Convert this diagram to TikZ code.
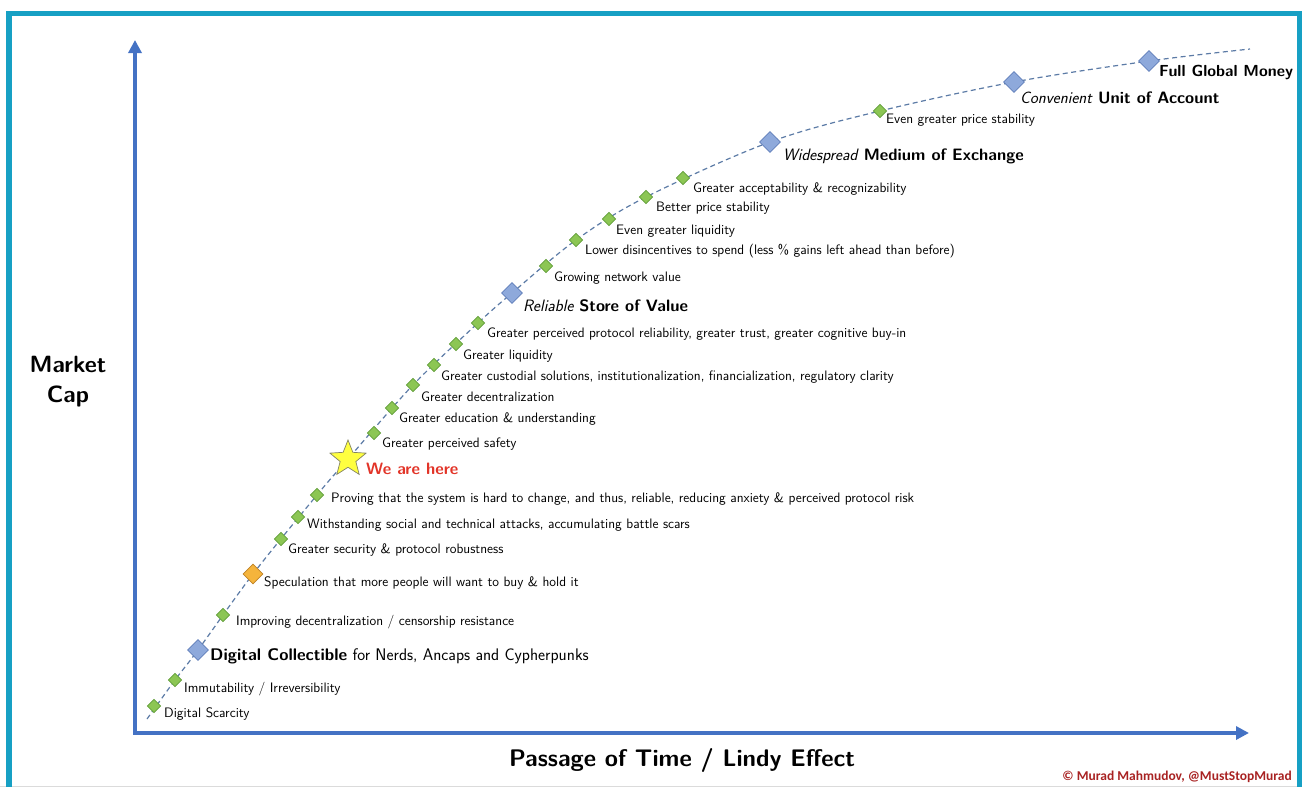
\documentclass[tikz,border=0pt]{standalone}
\usepackage{fontspec}
\newfontfamily\carlito{Carlito}
\usetikzlibrary{shapes.geometric,arrows.meta}
\definecolor{frameteal}{RGB}{23,160,196}
\definecolor{axisblue}{RGB}{68,114,196}
\definecolor{curveblue}{RGB}{92,123,166}
\definecolor{gfill}{RGB}{140,198,84}
\definecolor{gdraw}{RGB}{98,158,58}
\definecolor{bfill}{RGB}{142,169,219}
\definecolor{bdraw}{RGB}{96,126,186}
\definecolor{ofill}{RGB}{245,180,60}
\definecolor{odraw}{RGB}{190,130,40}
\definecolor{starfill}{RGB}{255,255,64}
\definecolor{stardraw}{RGB}{130,130,100}
\definecolor{herered}{RGB}{226,52,40}
\definecolor{copyred}{RGB}{168,34,34}
\begin{document}
\begin{tikzpicture}[x=1pt,y=-1pt,
  smalld/.style={diamond, aspect=1, inner sep=0pt, minimum width=13.5pt, minimum height=13.5pt, fill=gfill, draw=gdraw, line width=0.6pt},
  bigd/.style={diamond, aspect=1, inner sep=0pt, minimum width=21pt, minimum height=21pt, fill=bfill, draw=bdraw, line width=0.7pt},
  orad/.style={diamond, aspect=1, inner sep=0pt, minimum width=20pt, minimum height=20pt, fill=ofill, draw=odraw, line width=0.7pt},
  lab/.style={anchor=base west, inner sep=0pt, font=\sffamily\fontsize{13.7}{16}\selectfont},
  biglab/.style={anchor=base west, inner sep=0pt, font=\sffamily\fontsize{16.5}{19}\selectfont},
  axis/.style={draw=axisblue, line width=4pt, {Triangle[length=13pt,width=13pt]}-{Triangle[length=13pt,width=13pt]}},
  curve/.style={draw=curveblue, line width=1.2pt, dash pattern=on 5pt off 3.5pt}
]
\useasboundingbox (0,0) rectangle (1302,787);
% frame
\draw[black!14, line width=1pt] (0,786) -- (1302,786);
\draw[frameteal, line width=5.5pt] (9,787) -- (9,13.5) -- (1299.5,13.5) -- (1299.5,787);
% axes
\coordinate (ytip) at (135,40);
\coordinate (O) at (135,733);
\coordinate (xtip) at (1249,733);
\draw[axis] (ytip) -- (O) -- (xtip);
% curve points
\coordinate (s) at (147,719);
\coordinate (p1) at (154,706);
\coordinate (p2) at (175,680);
\coordinate (p3) at (198,650);
\coordinate (p4) at (223,615);
\coordinate (p5) at (253,574);
\coordinate (p6) at (281,539);
\coordinate (p7) at (298,517);
\coordinate (p8) at (317,495);
\coordinate (p9) at (348,459);
\coordinate (p10) at (374,433);
\coordinate (p11) at (392,408);
\coordinate (p12) at (413,385);
\coordinate (p13) at (434,365);
\coordinate (p14) at (456,344);
\coordinate (p15) at (478,323);
\coordinate (p16) at (512,293);
\coordinate (p17) at (546,266);
\coordinate (p18) at (576,240);
\coordinate (p19) at (609,219);
\coordinate (p20) at (646,197);
\coordinate (p21) at (683,178);
\coordinate (p22) at (770,142);
\coordinate (p23) at (880,111);
\coordinate (p24) at (1014,82);
\coordinate (p25) at (1149,61);
\coordinate (e) at (1250,49);
\draw[curve] plot[smooth, tension=0.55] coordinates {(s) (p2) (p3) (p5) (p8) (p9) (p12) (p15) (p16) (p18) (p20) (p22) (p23) (p24) (p25) (e)};
% markers
\node[smalld] (d1) at (p1) {};
\node[smalld] (d2) at (p2) {};
\node[bigd] (d3) at (p3) {};
\node[smalld] (d4) at (p4) {};
\node[orad] (d5) at (p5) {};
\node[smalld] (d6) at (p6) {};
\node[smalld] (d7) at (p7) {};
\node[smalld] (d8) at (p8) {};
\node[star, star points=5, star point ratio=2.3, inner sep=0pt, minimum size=38pt, fill=starfill, draw=stardraw, line width=0.7pt] (d9) at (p9) {};
\node[smalld] (d10) at (p10) {};
\node[smalld] (d11) at (p11) {};
\node[smalld] (d12) at (p12) {};
\node[smalld] (d13) at (p13) {};
\node[smalld] (d14) at (p14) {};
\node[smalld] (d15) at (p15) {};
\node[bigd] (d16) at (p16) {};
\node[smalld] (d17) at (p17) {};
\node[smalld] (d18) at (p18) {};
\node[smalld] (d19) at (p19) {};
\node[smalld] (d20) at (p20) {};
\node[smalld] (d21) at (p21) {};
\node[bigd] (d22) at (p22) {};
\node[smalld] (d23) at (p23) {};
\node[bigd] (d24) at (p24) {};
\node[bigd] (d25) at (p25) {};
% labels
\node[lab] (l1) at (164,717.5) {Digital Scarcity};
\node[lab] (l2) at (184,692.5) {Immutability / Irreversibility};
\node[biglab, font=\sffamily\fontsize{16.8}{19}\selectfont] (l3) at (210,660.5) {\textbf{Digital Collectible} for Nerds, Ancaps and Cypherpunks};
\node[lab] (l4) at (236,625.5) {Improving decentralization / censorship resistance};
\node[lab] (l5) at (264,586.5) {Speculation that more people will want to buy \& hold it};
\node[lab] (l6) at (288,553.5) {Greater security \& protocol robustness};
\node[lab] (l7) at (307,528.5) {Withstanding social and technical attacks, accumulating battle scars};
\node[lab] (l8) at (331,502.5) {Proving that the system is hard to change, and thus, reliable, reducing anxiety \& perceived protocol risk};
\node[biglab, text=herered] (l9) at (366,474.5) {\textbf{We are here}};
\node[lab] (l10) at (382,447.5) {Greater perceived safety};
\node[lab] (l11) at (399,422.5) {Greater education \& understanding};
\node[lab] (l12) at (421,401.5) {Greater decentralization};
\node[lab] (l13) at (441,380.5) {Greater custodial solutions, institutionalization, financialization, regulatory clarity};
\node[lab] (l14) at (463,359.5) {Greater liquidity};
\node[lab] (l15) at (487,337.5) {Greater perceived protocol reliability, greater trust, greater cognitive buy-in};
\node[biglab] (l16) at (523,311.5) {\textit{Reliable} \textbf{Store of Value}};
\node[lab] (l17) at (554,281.5) {Growing network value};
\node[lab] (l18) at (585,254.5) {Lower disincentives to spend (less \% gains left ahead than before)};
\node[lab] (l19) at (616,234.5) {Even greater liquidity};
\node[lab] (l20) at (656,211.5) {Better price stability};
\node[lab] (l21) at (693,192.5) {Greater acceptability \& recognizability};
\node[biglab] (l22) at (783,160.5) {\textit{Widespread} \textbf{Medium of Exchange}};
\node[lab] (l23) at (886,123.5) {Even greater price stability};
\node[biglab] (l24) at (1020,103.5) {\textit{Convenient} \textbf{Unit of Account}};
\node[biglab, font=\sffamily\fontsize{16}{19}\selectfont] (l25) at (1159,76.5) {\textbf{Full Global Money}};
% axis titles
\node[font=\sffamily\bfseries\fontsize{24}{29}\selectfont, inner sep=0pt] (xt) at (682,760) {Passage of Time / Lindy Effect};
\node[font=\sffamily\bfseries\fontsize{23.5}{30}\selectfont, align=center, inner sep=0pt] (yt) at (68,382) {Market\\Cap};
\node[font=\carlito\bfseries\fontsize{13.5}{16}\selectfont, text=copyred, anchor=base east, inner sep=0pt] (cp) at (1292,780) {© Murad Mahmudov, @MustStopMurad};
\end{tikzpicture}
\end{document}
